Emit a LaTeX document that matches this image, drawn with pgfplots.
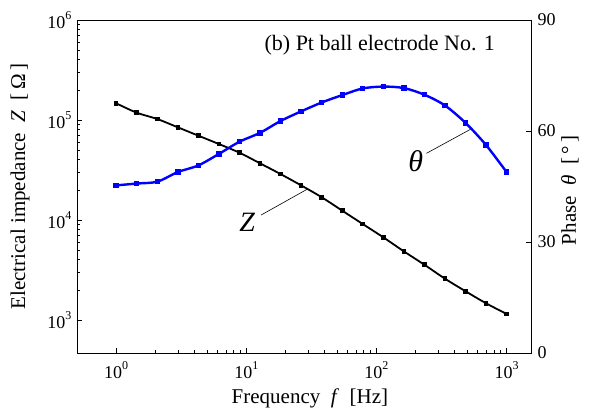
\documentclass[border=0pt]{standalone}
\usepackage{fontspec}
\setmainfont{Liberation Serif}
\usepackage{pgfplots}
\pgfplotsset{compat=1.18}

% power of ten with a small raised exponent
\newcommand\tp[1]{10\raisebox{9pt}{\fontsize{12}{13}\selectfont #1}}

\pgfplotstableread{
f      Z
1      146900
1.438  118300
2.069  102300
2.976  84500
4.281  69700
6.158  57500
8.859  47100
12.74  36900
18.33  28800
26.37  22200
37.93  16900
54.56  12400
78.48  9120
112.9  6710
162.4  4860
233.6  3570
336.0  2590
483.3  1940
695.2  1470
1000   1150
}\impedance

\pgfplotstableread{
f      th
1      45.3
1.438  45.8
2.069  46.3
2.976  48.9
4.281  50.7
6.158  53.8
8.859  57.1
12.74  59.5
18.33  62.7
26.37  65.3
37.93  67.7
54.56  69.7
78.48  71.5
112.9  72.0
162.4  71.6
233.6  69.8
336.0  66.9
483.3  62.2
695.2  56.2
1000   48.9
}\phase

\begin{document}
\begin{tikzpicture}[font=\fontsize{18}{21}\selectfont]
\useasboundingbox (-77pt,-61pt) rectangle (515pt,353pt);
\begin{axis}[
  at={(0,0)}, anchor=south west,
  scale only axis, width=454pt, height=333pt,
  xmode=log, xmin=0.5, xmax=1540,
  tick align=inside, major tick length=5pt,
  axis line style={line width=0.8pt},
  every tick/.style={black, line width=0.7pt},
  tick label style={font=\fontsize{18}{21}\selectfont},
  ymode=log, ymin=468, ymax=1e6,
  xtick={1,10,100,1000}, minor xtick={},
  xticklabels={\tp{0},\tp{1},\tp{2},\tp{3}},
  ytick={1e3,1e4,1e5,1e6}, minor ytick={},
  yticklabels={\tp{3},\tp{4},\tp{5},\tp{6}},
  xticklabel style={yshift=-5pt},
  yticklabel style={xshift=-2pt},
  xtick pos=bottom, ytick pos=left,
  xlabel={Frequency\ \ \textit{f}\ \ [Hz]},
  xlabel style={font=\fontsize{21}{24}\selectfont, at={(axis description cs:0.513,0)}, anchor=center, yshift=-45pt},
  ylabel={Electrical impedance\ \ \textit{Z}\ \ [\,Ω\,]},
  ylabel style={font=\fontsize{21}{24}\selectfont, at={(axis description cs:-0.1256,0.5)}, anchor=center},
  clip=false,
]
\addplot[black, line width=1.8pt, smooth, mark=square*, mark size=1.4pt] table[x=f, y=Z] {\impedance};
\draw[line width=0.6pt] (axis cs:13,11220) -- (axis cs:29.3,20280);
\node[font=\fontsize{28}{30}\selectfont\itshape, inner sep=0pt] at (axis cs:10.15,9440) {Z};
\draw[line width=0.6pt] (axis cs:242.5,46450) -- (axis cs:528,80700);
\node[font=\fontsize{30}{32}\selectfont\itshape, inner sep=0pt] at (axis cs:200,39100) {θ};
\node[anchor=east, inner sep=0pt, font=\fontsize{22}{25}\selectfont] at (rel axis cs:0.921,0.925) {(b) Pt ball electrode No. 1};
\end{axis}
\begin{axis}[
  at={(0,0)}, anchor=south west,
  scale only axis, width=454pt, height=333pt,
  xmode=log, xmin=0.5, xmax=1540,
  tick align=inside, major tick length=5pt,
  axis line style={line width=0.8pt},
  every tick/.style={black, line width=0.7pt},
  tick label style={font=\fontsize{18}{21}\selectfont},
  ymin=0, ymax=90,
  axis y line*=right, hide x axis,
  ytick={0,30,60,90}, yticklabels={0,30,60,90},
  yticklabel style={xshift=3pt},
  ylabel={Phase\ \ \textit{θ}\ \ [\,°\,]},
  ylabel style={font=\fontsize{21}{24}\selectfont, at={(axis description cs:1.086,0.489)}, anchor=center},
]
\addplot[blue, line width=2.4pt, smooth, mark=square*, mark size=1.5pt] table[x=f, y=th] {\phase};
\end{axis}
\end{tikzpicture}
\end{document}
